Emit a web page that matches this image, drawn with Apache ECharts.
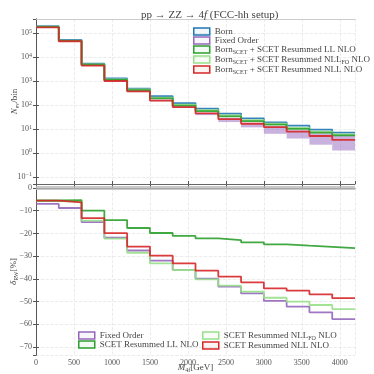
<!DOCTYPE html>
<html><head><meta charset="utf-8">
<script src="https://cdn.jsdelivr.net/npm/echarts@6/dist/echarts.min.js"></script>
<style>html,body{margin:0;padding:0;background:#fff}#c{width:374px;height:374px}</style>
</head><body><div id="c"></div><script>
// ---- data ----
const binEdges = [0,300,600,900,1200,1500,1800,2100,2400,2700,3000,3300,3600,3900,4200];
const xTicks = [0,500,1000,1500,2000,2500,3000,3500,4000];
// top panel: events per bin
const bornTop   = [2.0e5, 5.3e4, 5.4e3, 1.3e3, 490, 236, 121, 71, 44, 27.6, 19, 13.8, 9.5, 7.1];
const llTop     = [1.86e5, 4.9e4, 4.9e3, 1.12e3, 417, 190, 95, 56, 34, 21.4, 15.1, 10.2, 7.1, 5.4];
const nllFoTop  = [1.9e5, 5.0e4, 5.1e3, 1.2e3, 450, 205, 104, 61, 37, 23.5, 16.6, 11.2, 7.8, 5.9];
const nllTop    = [1.78e5, 4.7e4, 4.5e3, 1.02e3, 372, 155, 83, 45, 26, 16.6, 12, 7.8, 5.1, 3.5];
const foBandHi  = [1.8e5, 4.75e4, 4.55e3, 1.03e3, 380, 166, 89, 48, 29, 18.2, 13.2, 8.9, 6.6, 5.8];
const foBandLo  = [1.72e5, 4.5e4, 4.3e3, 980, 347, 145, 76, 38, 19.5, 11.7, 6.3, 4.0, 2.2, 1.26];
// bottom panel: relative difference in %
const foRel     = [-7.0, -8.8, -15.0, -21.9, -27.5, -32.0, -36.0, -39.9, -43.4, -46.4, -49.7, -52.2, -54.7, -57.7];
const llRel     = [-5.5, -5.3, -10.0, -14.1, -17.6, -19.8, -21.1, -22.2, -22.9, -23.9, -24.8, -25.4, -25.9, -26.5];
const nllFoRel  = [-5.8, -6.0, -14.4, -22.3, -28.5, -33.2, -36.1, -40.2, -43.0, -45.6, -48.3, -50.0, -51.5, -53.3];
const nllRel    = [-5.6, -6.3, -13.3, -19.9, -25.8, -29.8, -33.2, -36.4, -39.0, -41.5, -44.2, -45.2, -46.8, -48.5];

// ---- styling ----
const F = '"Liberation Serif", "DejaVu Serif", serif';
const TXT = '#444';
const C = {born:'#1f77b4', fo:'#9467bd', ll:'#2ca02c', nllfo:'#98df8a', nll:'#d62728'};
const LIGHT = {born:'rgba(31,119,180,0.06)', fo:'rgba(148,103,189,0.06)', ll:'rgba(44,160,44,0.06)', nllfo:'rgba(152,223,138,0.06)', nll:'rgba(214,39,40,0.06)'};

function steps(vals){
  const d = vals.map((v,i)=>[binEdges[i], v]);
  d.push([binEdges[vals.length], vals[vals.length-1]]);
  return d;
}
const bandData = foBandHi.map((h,i)=>[binEdges[i], binEdges[i+1], foBandLo[i], h]);

const rich = {
  n:{fontFamily:F, fontSize:9, color:TXT, lineHeight:11},
  s:{fontFamily:F, fontSize:6, color:TXT, lineHeight:7, verticalAlign:'bottom'},
  i:{fontFamily:F, fontSize:9, color:TXT, lineHeight:11, fontStyle:'italic'}
};
const names = {
  'Born':'{n|Born}',
  'Fixed Order':'{n|Fixed Order}',
  'BornLL':'{n|Born}{s|SCET}{n| + SCET Resummed LL NLO}',
  'BornNLLFO':'{n|Born}{s|SCET}{n| + SCET Resummed NLL}{s|FO}{n| NLO}',
  'BornNLL':'{n|Born}{s|SCET}{n| + SCET Resummed NLL NLO}',
  'RelLL':'{n|SCET Resummed LL NLO}',
  'RelNLLFO':'{n|SCET Resummed NLL}{s|FO}{n| NLO}',
  'RelNLL':'{n|SCET Resummed NLL NLO}'
};
function legItem(name, key){
  return {name, icon:'rect', itemStyle:{color:LIGHT[key], borderColor:C[key], borderWidth:1.5}};
}
function lineSeries(name, data, key, xi, yi, z){
  return {name, type:'line', step:'end', data:steps(data), xAxisIndex:xi, yAxisIndex:yi,
    symbol:'none', z:z, lineStyle:{color:C[key], width:1.8, opacity:0.9}, itemStyle:{color:C[key]}};
}
const splitL = {show:true, lineStyle:{color:'#e6e6e6', type:'dashed', width:0.8}};
const labStyle = {fontFamily:F, fontSize:8, color:'#555'};

const option = {
  animation:false,
  backgroundColor:'#fff',
  title:{text:'{n|pp → ZZ → 4}{i|f}{n| (FCC-hh setup)}', left:136, top:5,
    textStyle:{fontWeight:'normal', rich:{n:{fontFamily:F, fontSize:11, color:TXT, fontWeight:'normal'}, i:{fontFamily:F, fontSize:11, color:TXT, fontStyle:'italic', fontWeight:'normal'}}}},
  grid:[{left:36, right:19, top:19, height:165, containLabel:false, outerBoundsMode:'none'},
        {left:36, right:19, top:188, height:167, containLabel:false, outerBoundsMode:'none'}],
  legend:[
    {orient:'vertical', left:188, top:22, itemWidth:16, itemHeight:7, itemGap:0, selectedMode:false,
     formatter:n=>names[n], textStyle:{rich},
     data:[legItem('Born','born'), legItem('Fixed Order','fo'), legItem('BornLL','ll'), legItem('BornNLLFO','nllfo'), legItem('BornNLL','nll')]},
    {orient:'vertical', left:73, top:326, itemWidth:16, itemHeight:7, itemGap:0, selectedMode:false,
     formatter:n=>names[n], textStyle:{rich},
     data:[legItem('Fixed Order','fo'), legItem('RelLL','ll')]},
    {orient:'vertical', left:197, top:326, itemWidth:16, itemHeight:7, itemGap:0, selectedMode:false,
     formatter:n=>names[n], textStyle:{rich},
     data:[legItem('RelNLLFO','nllfo'), legItem('RelNLL','nll')]}
  ],
  xAxis:[
    {gridIndex:0, type:'value', min:0, max:4200, interval:500, axisLabel:{show:false},
     axisLine:{lineStyle:{color:'#666'}}, axisTick:{inside:true, length:3, lineStyle:{color:'#555'}}, splitLine:splitL},
    {gridIndex:0, type:'value', position:'top', min:0, max:4200, interval:500, axisLabel:{show:false},
     axisLine:{lineStyle:{color:'#ccc'}}, axisTick:{show:false}, splitLine:{show:false}},
    {gridIndex:1, type:'value', min:0, max:4200, interval:500,
     axisLabel:Object.assign({margin:4, showMaxLabel:false, formatter:v=>xTicks.includes(v)?String(v):''}, labStyle),
     axisLine:{lineStyle:{color:'#666'}}, axisTick:{inside:true, length:3, lineStyle:{color:'#555'}}, splitLine:splitL,
     name:'{i|M}{s|4f}{n|[GeV]}', nameLocation:'middle', nameGap:7, nameMoveOverlap:false, nameTextStyle:{rich}},
    {gridIndex:1, type:'value', position:'top', min:0, max:4200, interval:500, axisLabel:{show:false},
     axisLine:{show:false}, axisTick:{show:false}, splitLine:{show:false}}
  ],
  yAxis:[
    {gridIndex:0, type:'log', logBase:10, min:0.05, max:4e5,
     axisLabel:{margin:4, showMinLabel:false, showMaxLabel:false,
       formatter:v=>{const l=Math.log10(v), e=Math.round(l); if(Math.abs(l-e)>1e-6) return ''; return '{b|10}{e|'+(e<0?'\u2212'+(-e):e)+'}';},
       rich:{b:{fontFamily:F, fontSize:8, color:'#555', lineHeight:10}, e:{fontFamily:F, fontSize:6, color:'#555', lineHeight:6, verticalAlign:'top'}}},
     axisLine:{show:true, lineStyle:{color:'#555'}}, axisTick:{inside:true, length:3, lineStyle:{color:'#555'}}, splitLine:splitL,
     name:'{i|N}{s|ev}{n|/bin}', nameLocation:'middle', nameGap:16, nameMoveOverlap:false, nameRotate:90, nameTextStyle:{rich}},
    {gridIndex:0, type:'log', logBase:10, min:0.05, max:4e5, position:'right', axisLabel:{show:false},
     axisLine:{show:true, lineStyle:{color:'#555'}}, axisTick:{inside:true, length:3, lineStyle:{color:'#555'}}, splitLine:{show:false}},
    {gridIndex:1, type:'value', min:-73.5, max:0, splitNumber:8,
     axisLabel:Object.assign({margin:4, showMinLabel:false, formatter:v=>(v%10===0)?(v<0?'\u2212'+(-v):'0'):''}, labStyle),
     axisLine:{show:true, lineStyle:{color:'#555'}}, axisTick:{inside:true, length:3, lineStyle:{color:'#555'}}, splitLine:splitL,
     name:'{i|δ}{s|RW}{n|[%]}', nameLocation:'middle', nameGap:17, nameMoveOverlap:false, nameRotate:90, nameTextStyle:{rich}},
    {gridIndex:1, type:'value', min:-73.5, max:0, splitNumber:8, position:'right', axisLabel:{show:false},
     axisLine:{show:true, lineStyle:{color:'#555'}}, axisTick:{inside:true, length:3, lineStyle:{color:'#555'}}, splitLine:{show:false}}
  ],
  series:[
    {name:'Fixed Order', type:'custom', xAxisIndex:0, yAxisIndex:0, data:bandData, z:1,
     encode:{x:[0,1], y:[2,3]}, itemStyle:{color:C.fo},
     renderItem:(params, api)=>{
       const a = api.coord([api.value(0), api.value(3)]);
       const b = api.coord([api.value(1), api.value(2)]);
       return {type:'rect', shape:{x:a[0], y:a[1], width:b[0]-a[0], height:b[1]-a[1]},
         style:{fill:'rgba(148,103,189,0.5)'}};
     }},
    lineSeries('Born', bornTop, 'born', 0, 0, 3),
    lineSeries('BornNLLFO', nllFoTop, 'nllfo', 0, 0, 3),
    lineSeries('BornLL', llTop, 'll', 0, 0, 4),
    lineSeries('BornNLL', nllTop, 'nll', 0, 0, 5),
    Object.assign(lineSeries('Fixed Order', foRel, 'fo', 2, 2, 3), {
      markLine:{silent:true, symbol:'none', label:{show:false}, lineStyle:{color:'#bbb', width:4, type:'solid', opacity:0.8},
        data:[{yAxis:0}]}}),
    lineSeries('RelNLLFO', nllFoRel, 'nllfo', 2, 2, 3),
    lineSeries('RelLL', llRel, 'll', 2, 2, 4),
    lineSeries('RelNLL', nllRel, 'nll', 2, 2, 5)
  ]
};
const chart = echarts.init(document.getElementById('c'), null, {renderer:'canvas'});
chart.setOption(option);
</script></body></html>
